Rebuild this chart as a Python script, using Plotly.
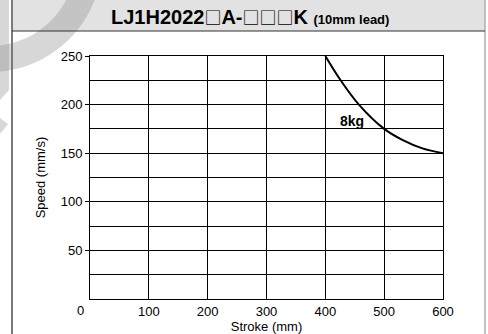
import math
import plotly.graph_objects as go

# ---- data ----
stroke = [400, 426, 457, 500, 530, 565, 600]
speed = [250, 225, 200, 175, 164, 155, 150]
series_label = "8kg"
label_pos = (445, 183)
x_ticks = [100, 200, 300, 400, 500, 600]
y_ticks = [50, 100, 150, 200, 250]
title_main = "LJ1H2022□A-□□□K"
title_sub = "(10mm lead)"
x_title = "Stroke (mm)"
y_title = "Speed (mm/s)"

W, H = 488, 334
L, R, T, B = 90, 443, 56, 299


def px(x):
    return (x - L) / (R - L)


def py(y):
    return (B - y) / (B - T)


def path(points):
    s = "M " + " L ".join(f"{px(x):.4f},{py(y):.4f}" for x, y in points)
    return s + " Z"


fig = go.Figure()
fig.add_trace(go.Scatter(
    x=stroke, y=speed, mode="lines",
    line=dict(color="black", width=2, shape="spline", smoothing=1.0),
    showlegend=False, hoverinfo="skip",
))

shapes = []
# title band
shapes.append(dict(type="rect", xref="paper", yref="paper",
                   x0=px(12), x1=px(485), y0=py(31), y1=py(0),
                   fillcolor="#e2e2e2", line=dict(width=0), layer="below"))
# watermark arc
cx, cy, ro, ri = -10, -40, 112, 86
outer = [(cx + ro * math.cos(math.radians(a)), cy + ro * math.sin(math.radians(a)))
         for a in range(18, 112, 4)]
inner = [(cx + ri * math.cos(math.radians(a)), cy + ri * math.sin(math.radians(a)))
         for a in range(110, 16, -4)]
shapes.append(dict(type="path", xref="paper", yref="paper", path=path(outer + inner),
                   fillcolor="rgba(140,140,140,0.35)", line=dict(width=0), layer="below"))
shapes.append(dict(type="path", xref="paper", yref="paper",
                   path=path([(0, 0), (9, 0), (9, 90), (0, 100)]),
                   fillcolor="rgba(140,140,140,0.35)", line=dict(width=0), layer="below"))
shapes.append(dict(type="path", xref="paper", yref="paper",
                   path=path([(0, 118), (8, 124), (0, 134)]),
                   fillcolor="rgba(140,140,140,0.35)", line=dict(width=0), layer="below"))
# frame lines
shapes.append(dict(type="line", xref="paper", yref="paper",
                   x0=px(12), x1=px(12), y0=py(0), y1=py(334),
                   line=dict(color="#7a7a7a", width=2)))
shapes.append(dict(type="line", xref="paper", yref="paper",
                   x0=px(485), x1=px(485), y0=py(0), y1=py(334),
                   line=dict(color="#b0b0b0", width=1.5)))
shapes.append(dict(type="line", xref="paper", yref="paper",
                   x0=px(12), x1=px(485), y0=py(31), y1=py(31),
                   line=dict(color="#333333", width=1.2)))

box = "<span style='font-family:Noto Sans CJK JP;font-weight:normal;font-size:17px'>□</span>"
title_html = title_main.replace("□", box)
annotations = [
    dict(xref="paper", yref="paper", x=px(250), y=py(17),
         text=f"<b>{title_html} <span style='font-size:13px'>{title_sub}</span></b>",
         showarrow=False, font=dict(size=20, color="black"), xanchor="center", yanchor="middle"),
    dict(x=label_pos[0], y=label_pos[1], text=f"<b>{series_label}</b>", showarrow=False,
         font=dict(size=14, color="black"), xanchor="center", yanchor="middle"),
    dict(xref="paper", yref="paper", x=px(86), y=py(310), text="0", showarrow=False,
         font=dict(size=13, color="black"), xanchor="right", yanchor="middle"),
]

font_family = "Liberation Sans, Arial, sans-serif"
fig.update_layout(
    width=W, height=H,
    margin=dict(l=L, r=W - R, t=T, b=H - B, pad=0, autoexpand=False),
    paper_bgcolor="white", plot_bgcolor="white",
    font=dict(family=font_family, size=13, color="black"),
    shapes=shapes, annotations=annotations,
    xaxis=dict(range=[0, 600], tickvals=x_ticks, showgrid=True, gridcolor="black", gridwidth=1,
               showline=True, linecolor="black", linewidth=1, mirror=True,
               ticks="",
               zeroline=False, tickfont=dict(size=13), automargin=False,
               title=dict(text=x_title, font=dict(size=13), standoff=7), fixedrange=True),
    yaxis=dict(range=[0, 250], tickvals=y_ticks, showgrid=True, gridcolor="black", gridwidth=1,
               showline=True, linecolor="black", linewidth=1, mirror=True,
               ticks="outside", ticklen=4, tickcolor="black",
               minor=dict(dtick=25, showgrid=True, gridcolor="black", gridwidth=1, ticks=""),
               zeroline=False, tickfont=dict(size=13), automargin=False,
               title=dict(text=y_title, font=dict(size=13), standoff=12), fixedrange=True),
)

fig.write_html("out.html", config={"displayModeBar": False},
               post_script="document.body.style.margin='0';document.body.style.padding='0';")
